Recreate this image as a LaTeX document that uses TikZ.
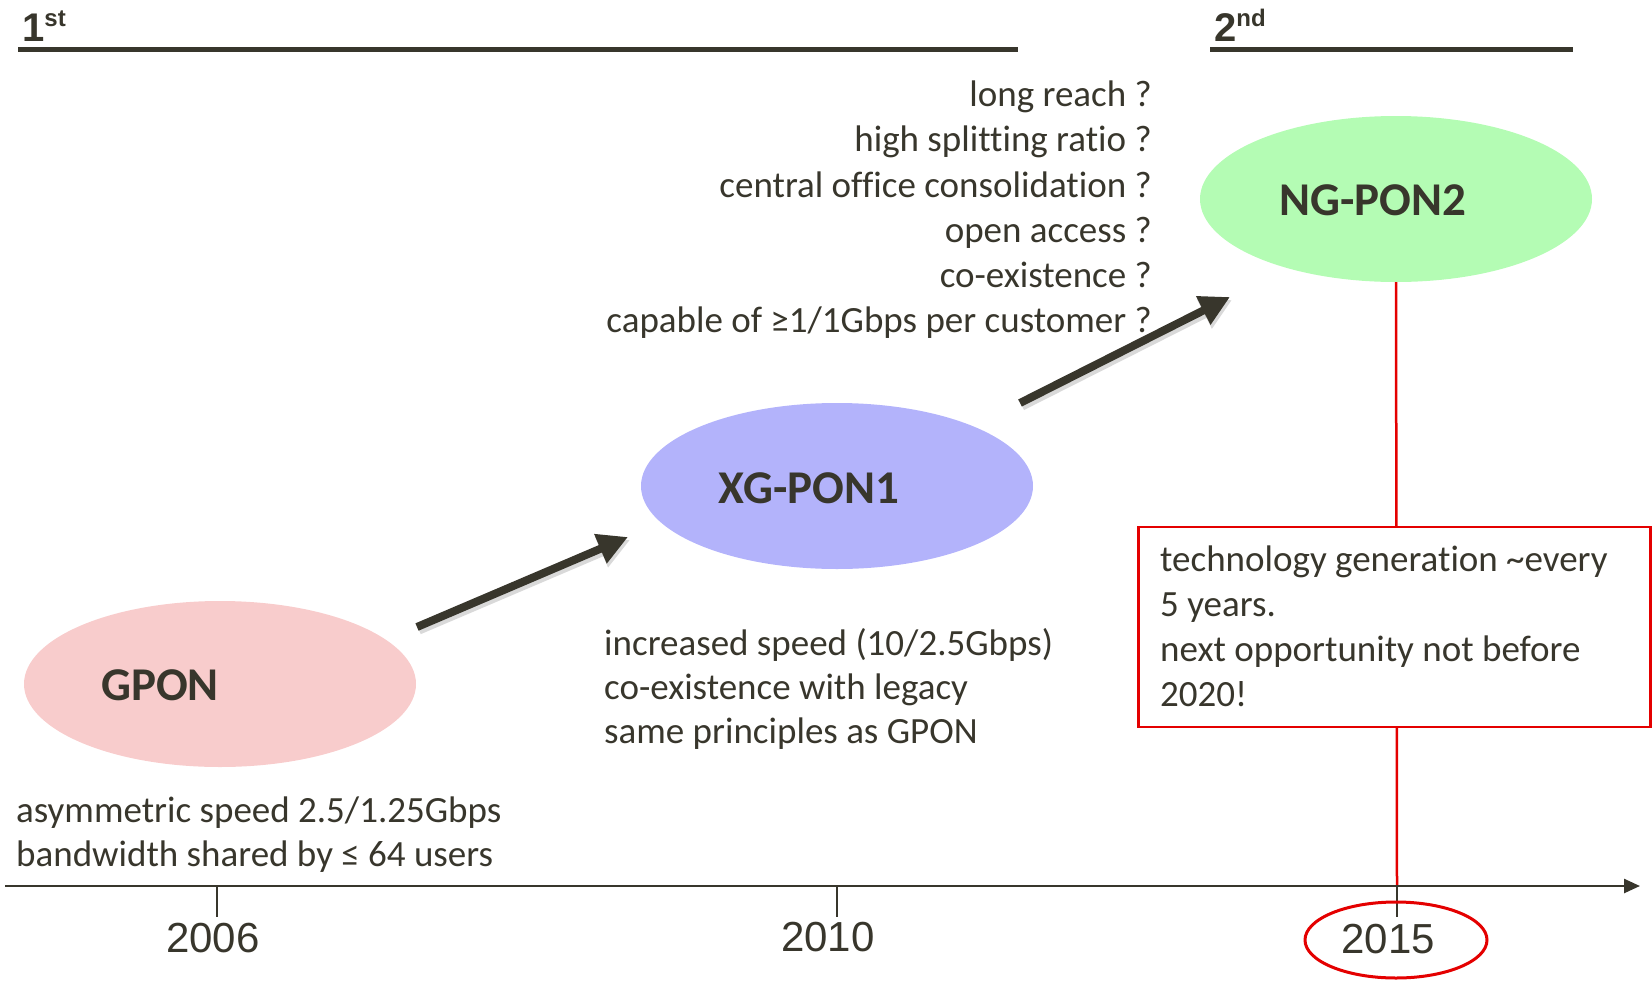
\documentclass[tikz,border=0pt]{standalone}
\usepackage{fontspec}
\setmainfont{Carlito}[Ligatures=NoCommon]
\newfontfamily\arialf{Liberation Sans}
\usetikzlibrary{arrows.meta,shapes.geometric}
\definecolor{txt}{RGB}{56,54,44}
\definecolor{pinkc}{RGB}{248,204,204}
\definecolor{bluec}{RGB}{179,179,251}
\definecolor{greenc}{RGB}{180,252,180}
\definecolor{redc}{RGB}{228,0,0}
\begin{document}
\begin{tikzpicture}[x=1pt,y=-1pt,
  blob/.style={ellipse, minimum width=392pt, minimum height=166pt, inner sep=0pt, draw=none},
  biglabel/.style={font=\fontsize{47}{47}\selectfont\bfseries, text=txt, inner sep=0pt},
  bodyl/.style={font=\fontsize{37}{45}\selectfont, text=txt, inner sep=0pt, anchor=base west},
  bodyr/.style={font=\fontsize{37}{45}\selectfont, text=txt, inner sep=0pt, anchor=base east},
  year/.style={font=\arialf\fontsize{42}{42}\selectfont, text=txt, inner sep=0pt, anchor=base},
  bigarrow/.style={draw=txt, line width=8pt, -{Triangle[length=30pt,width=30pt]}},
  shadowarrow/.style={draw=black, opacity=0.15, line width=9pt, -{Triangle[length=31pt,width=31pt]}},
  genbar/.style={draw=txt, line width=5pt},
  gentext/.style={font=\arialf\bfseries\fontsize{40}{40}\selectfont, text=txt, inner sep=0pt, anchor=base west},
  tick/.style={draw=txt, line width=2pt},
  redline/.style={draw=redc, line width=2.5pt}
]
\useasboundingbox (0,0) rectangle (1652,980);

% generation headers
\node[gentext] (g1) at (22,41) {1\raisebox{15pt}{\fontsize{24}{24}\selectfont st}};
\node[gentext] (g2) at (1214,41) {2\raisebox{15pt}{\fontsize{24}{24}\selectfont nd}};
\coordinate (b1s) at (18,49.5); \coordinate (b1e) at (1018,49.5);
\coordinate (b2s) at (1210,49.5); \coordinate (b2e) at (1573,49.5);
\draw[genbar] (b1s) -- (b1e);
\draw[genbar] (b2s) -- (b2e);

% ellipses
\node[blob, fill=pinkc] (gpon) at (220,684) {};
\node[blob, fill=bluec] (xg) at (837,486) {};
\node[blob, fill=greenc] (ng) at (1396,199) {};
\node[biglabel] (gponl) at (160,685) {GPON};
\node[biglabel] (xgl) at (809,488) {XG-PON1};
\node[biglabel] (ngl) at (1373,200) {NG-PON2};

% arrows
\coordinate (a1s) at (417,627); \coordinate (a1e) at (628,537);
\coordinate (a2s) at (1020,403); \coordinate (a2e) at (1230,297);
\draw[shadowarrow, transform canvas={shift={(2pt,-3pt)}}] (a1s) -- (a1e);
\draw[shadowarrow, transform canvas={shift={(2pt,-3pt)}}] (a2s) -- (a2e);
\draw[bigarrow] (a1s) -- (a1e);
\draw[bigarrow] (a2s) -- (a2e);

% question list
\node[bodyr] (q1) at (1152,106) {long reach ?};
\node[bodyr] (q2) at (1152,151) {high splitting ratio ?};
\node[bodyr] (q3) at (1152,197) {central office consolidation ?};
\node[bodyr] (q4) at (1152,242) {open access ?};
\node[bodyr] (q5) at (1152,287) {co-existence ?};
\node[bodyr] (q6) at (1152,332) {capable of ≥1/1Gbps per customer ?};

% XG-PON1 text
\node[bodyl] (x1) at (604,655) {increased speed (10/2.5Gbps)};
\node[bodyl] (x2) at (604,699) {co-existence with legacy};
\node[bodyl] (x3) at (604,743) {same principles as GPON};

% GPON text
\node[bodyl] (p1) at (16,822) {asymmetric speed 2.5/1.25Gbps};
\node[bodyl] (p2) at (16,866) {bandwidth shared by ≤ 64 users};

% time axis
\coordinate (axs) at (5,886); \coordinate (axe) at (1640,886);
\coordinate (t1) at (217,886); \coordinate (t1b) at (217,917);
\coordinate (t2) at (837,886); \coordinate (t2b) at (837,917);
\coordinate (t3) at (1397,886); \coordinate (t3b) at (1397,917);

% red marker line
\draw[redline] (ng.south) -- (t3);

\draw[draw=txt, line width=2.5pt, -{Triangle[length=16pt,width=14pt]}] (axs) -- (axe);
\draw[tick] (t1) -- (t1b);
\draw[tick] (t2) -- (t2b);
\draw[tick] (t3) -- (t3b);

\node[year] (y1) at (213,952) {2006};
\node[year] (y2) at (828,951) {2010};
\node[year] (y3) at (1388,953) {2015};
\node[ellipse, draw=redc, line width=3pt, minimum width=182pt, minimum height=76pt, inner sep=0pt] (yr) at (1396,940) {};

% red note box
\node[draw=redc, line width=2.5pt, fill=white, minimum width=512pt, minimum height=200pt, inner sep=0pt] (note) at (1394.5,627) {};
\node[bodyl] (n1) at (1160,571) {technology generation \char"007E every};
\node[bodyl] (n2) at (1160,616) {5 years.};
\node[bodyl] (n3) at (1160,661) {next opportunity not before};
\node[bodyl] (n4) at (1160,706) {2020!};
\end{tikzpicture}
\end{document}
